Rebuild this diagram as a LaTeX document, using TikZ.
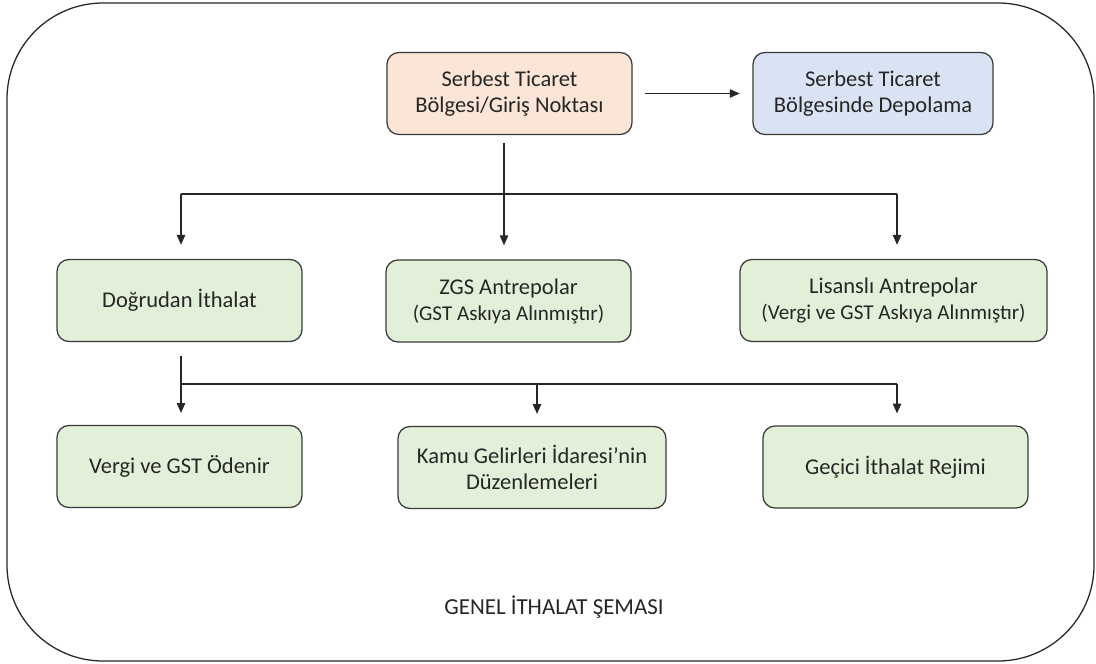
\documentclass[tikz,border=0pt]{standalone}
\usepackage{fontspec}
\setmainfont{Carlito}
\usetikzlibrary{arrows.meta}
\definecolor{peachfill}{HTML}{FBE5D6}
\definecolor{bluefill}{HTML}{DAE3F3}
\definecolor{greenfill}{HTML}{E2F0D9}
\definecolor{edgegray}{HTML}{3A3A3A}
\tikzset{
  box/.style={draw=edgegray, line width=0.9pt, rounded corners=0.3cm,
    minimum height=2.05cm, align=center, text=black!85,
    font=\fontsize{16}{18.5}\selectfont},
  peachbox/.style={box, fill=peachfill},
  bluebox/.style={box, fill=bluefill},
  greenbox/.style={box, fill=greenfill},
  conn/.style={line width=0.9pt, draw=black!85},
  >={Triangle[length=7pt,width=6pt]}
}
\newcommand{\altsatir}[1]{{\fontsize{15}{17}\selectfont #1}}

\begin{document}
\begin{tikzpicture}[x=0.025cm,y=-0.025cm]
\useasboundingbox (0,0) rectangle (1096,663);
% outer frame
\draw[line width=0.9pt, draw=black!85, rounded corners=2.4cm] (7,3) rectangle (1094,661);

% top row
\node[peachbox, minimum width=6.125cm] (sbn) at (509.5,93.5) {Serbest Ticaret\\Bölgesi/Giriş Noktası};
\node[bluebox, minimum width=6.0cm] (depo) at (873,93.5) {Serbest Ticaret\\Bölgesinde Depolama};
\draw[conn,->,shorten <=9pt,shorten >=9pt] (sbn) -- (depo);

% middle row
\node[greenbox, minimum width=6.125cm] (dogrudan) at (179.5,300.5) {Doğrudan İthalat};
\node[greenbox, minimum width=6.125cm] (zgs) at (508.5,301) {ZGS Antrepolar\\[0pt]\altsatir{(GST Askıya Alınmıştır)}};
\node[greenbox, minimum width=7.675cm] (lisansli) at (893.5,300.5) {Lisanslı Antrepolar\\[0pt]\altsatir{(Vergi ve GST Askıya Alınmıştır)}};

\coordinate (a) at (504,143);
\coordinate (bL) at (181,194);
\coordinate (bR) at (897,194);
\draw[conn,->,shorten >=10pt] (a) -- (a |- zgs.north);
\draw[conn] (bL) -- (bR);
\draw[conn,->,shorten >=10pt] (bL) -- (bL |- dogrudan.north);
\draw[conn,->,shorten >=10pt] (bR) -- (bR |- lisansli.north);

% bottom row
\node[greenbox, minimum width=6.125cm] (vergi) at (179.5,466.5) {Vergi ve GST Ödenir};
\node[greenbox, minimum width=6.7cm] (kamu) at (532,467.5) {Kamu Gelirleri İdaresi’nin\\Düzenlemeleri};
\node[greenbox, minimum width=6.625cm] (gecici) at (895.5,467) {Geçici İthalat Rejimi};

\coordinate (cL) at (181,384);
\coordinate (cM) at (537,384);
\coordinate (cR) at (897,384);
\draw[conn,->,shorten <=10pt,shorten >=8.5pt] (dogrudan.south -| cL) -- (cL |- vergi.north);
\draw[conn] (cL) -- (cR);
\draw[conn,->,shorten >=8.5pt] (cM) -- (cM |- kamu.north);
\draw[conn,->,shorten >=8.5pt] (cR) -- (cR |- gecici.north);

\node[font=\fontsize{16.3}{19}\selectfont, text=black!85] (baslik) at (554,607) {GENEL İTHALAT ŞEMASI};
\end{tikzpicture}
\end{document}
